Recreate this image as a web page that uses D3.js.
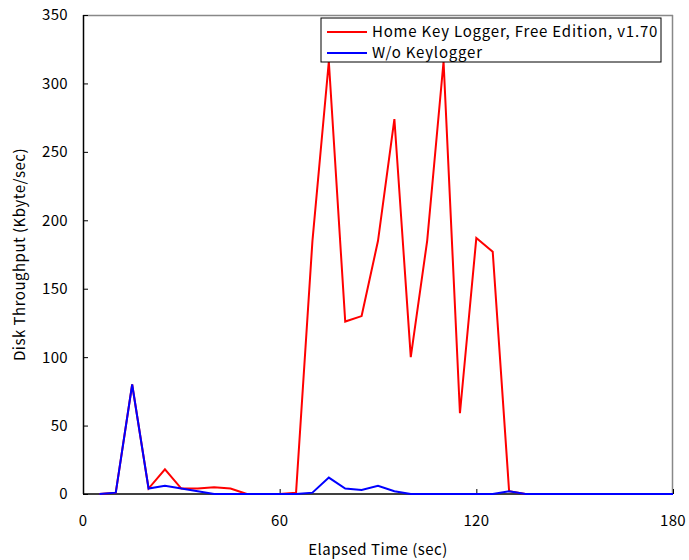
<!DOCTYPE html>
<html>
<head>
<meta charset="utf-8">
<script src="https://cdn.jsdelivr.net/npm/d3@7"></script>
<style>
  body { margin: 0; background: #fff; }
  text { font-family: "Noto Sans CJK JP", "Noto Sans", sans-serif; fill: #000; }
</style>
</head>
<body>
<div id="chart"></div>
<script>
// elapsed time (sec)
const times = [5, 10, 15, 20, 25, 30, 35, 40, 45, 50, 55, 60, 65, 70, 75, 80, 85, 90,
  95, 100, 105, 110, 115, 120, 125, 130, 135, 140, 145, 150, 155, 160, 165, 170, 175, 180];
// Kbyte/sec
const withLogger = [0, 1, 80, 4, 18, 4, 4, 5, 4, 0, 0, 0, 1, 185, 316, 126, 130, 185,
  274, 100, 185, 316, 59, 187, 177, 2, 0, 0, 0, 0, 0, 0, 0, 0, 0, 0];
const withoutLogger = [0, 1, 80, 4, 6, 4, 2, 0, 0, 0, 0, 0, 0, 1, 12, 4, 3, 6,
  2, 0, 0, 0, 0, 0, 0, 2, 0, 0, 0, 0, 0, 0, 0, 0, 0, 0];
const seriesNames = ["Home Key Logger, Free Edition, v1.70", "W/o Keylogger"];
const seriesColors = ["#ff0000", "#0000ff"];
const xTicks = [0, 60, 120, 180];
const yTicks = [0, 50, 100, 150, 200, 250, 300, 350];

const config = {
  width: 689, height: 560,
  margin: { top: 15, right: 16, bottom: 66, left: 83 },
};
const w = config.width - config.margin.left - config.margin.right;
const h = config.height - config.margin.top - config.margin.bottom;

const svg = d3.select("#chart").append("svg")
  .attr("width", config.width)
  .attr("height", config.height);
const g = svg.append("g")
  .attr("transform", `translate(${config.margin.left},${config.margin.top})`);

const x = d3.scaleLinear().domain([0, 180]).range([0, w]);
const y = d3.scaleLinear().domain([0, 350]).range([h, 0]);

// frame: top and right in gray
g.append("line").attr("x1", 0).attr("x2", w).attr("y1", 0.5).attr("y2", 0.5)
  .attr("stroke", "#888").attr("stroke-width", 1.5);
g.append("line").attr("x1", w - 0.5).attr("x2", w - 0.5).attr("y1", 0).attr("y2", h)
  .attr("stroke", "#888").attr("stroke-width", 1.5);

// y axis, ticks pointing inward
const yAxis = g.append("g").attr("class", "y-axis")
  .call(d3.axisRight(y).tickValues(yTicks).tickSize(5).tickFormat(""));
yAxis.select(".domain").remove();
yAxis.selectAll("line").attr("stroke", "#000");
g.selectAll(".ylab").data(yTicks).join("text")
  .attr("class", "ylab")
  .attr("x", -15)
  .attr("y", d => y(d))
  .attr("dy", "0.36em")
  .attr("text-anchor", "end")
  .style("font-size", "15px")
  .style("letter-spacing", "0.3px")
  .text(d => d);

// x axis, ticks pointing up
const xAxis = g.append("g").attr("class", "x-axis")
  .attr("transform", `translate(0,${h})`)
  .call(d3.axisTop(x).tickValues(xTicks).tickSize(5).tickFormat(""));
xAxis.select(".domain").remove();
xAxis.selectAll("line").attr("stroke", "#000");
g.selectAll(".xlab").data(xTicks).join("text")
  .attr("class", "xlab")
  .attr("x", d => x(d))
  .attr("y", h + 32)
  .attr("text-anchor", "middle")
  .style("font-size", "15px")
  .style("letter-spacing", "0.3px")
  .text(d => d);

// data lines
const line = d3.line().x(d => x(d.t)).y(d => y(d.v));
[withLogger, withoutLogger].forEach((vals, i) => {
  g.append("path")
    .datum(times.map((t, j) => ({ t: t, v: vals[j] })))
    .attr("fill", "none")
    .attr("stroke", seriesColors[i])
    .attr("stroke-width", 2)
    .attr("stroke-linejoin", "miter")
    .attr("d", line);
});

// left and bottom axis lines
g.append("line").attr("x1", 0.5).attr("x2", 0.5).attr("y1", 0).attr("y2", h)
  .attr("stroke", "#000").attr("stroke-width", 1.5);
g.append("line").attr("x1", 0).attr("x2", w).attr("y1", h).attr("y2", h)
  .attr("stroke", "#000").attr("stroke-width", 1.5).lower();

// axis titles
g.append("text")
  .attr("x", w / 2)
  .attr("y", h + 61)
  .attr("text-anchor", "middle")
  .style("font-size", "15px")
  .style("letter-spacing", "0.5px")
  .text("Elapsed Time (sec)");
g.append("text")
  .attr("transform", `translate(${-58},${h / 2}) rotate(-90)`)
  .attr("text-anchor", "middle")
  .style("font-size", "15px")
  .style("letter-spacing", "0.5px")
  .text("Disk Throughput (Kbyte/sec)");

// legend
const legend = g.append("g").attr("transform", `translate(${238},${3})`);
legend.append("rect")
  .attr("width", 340).attr("height", 44)
  .attr("fill", "#fff").attr("stroke", "#000").attr("stroke-width", 1);
seriesNames.forEach((name, i) => {
  const yy = 14 + i * 21;
  legend.append("line")
    .attr("x1", 6).attr("x2", 46).attr("y1", yy).attr("y2", yy)
    .attr("stroke", seriesColors[i]).attr("stroke-width", 2);
  legend.append("text")
    .attr("x", 51).attr("y", yy).attr("dy", "0.36em")
    .style("font-size", "15px")
    .style("letter-spacing", "0.8px")
    .text(name);
});
</script>
</body>
</html>
